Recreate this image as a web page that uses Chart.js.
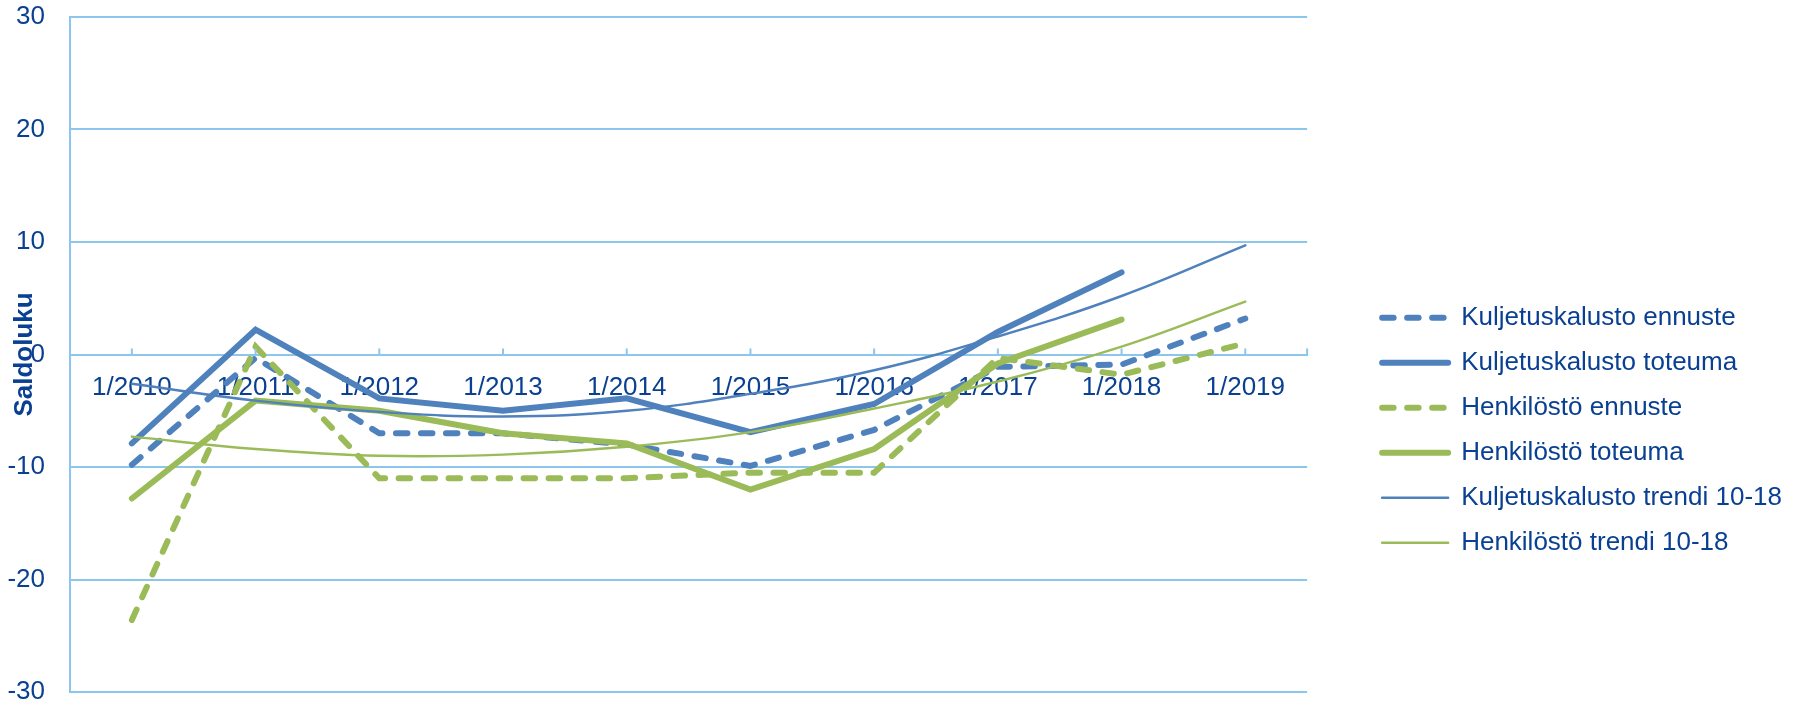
<!DOCTYPE html>
<html>
<head>
<meta charset="utf-8">
<script src="https://cdn.jsdelivr.net/npm/chart.js@4"></script>
<style>
  html, body { margin: 0; padding: 0; background: #fff; }
  #wrap { width: 1806px; height: 702px; }
</style>
</head>
<body>
<div id="wrap"><canvas id="saldoChart"></canvas></div>
<script>
const labels = ['1/2010', '1/2011', '1/2012', '1/2013', '1/2014', '1/2015', '1/2016', '1/2017', '1/2018', '1/2019'];

const kuljetusEnnuste = [-9.8, -0.3, -7.0, -7.0, -8.0, -9.9, -6.7, -1.1, -0.9, 3.2];
const kuljetusToteuma = [-7.9, 2.2, -3.9, -5.0, -3.9, -6.9, -4.4, 2.0, 7.3, null];
const henkEnnuste = [-23.6, 0.7, -11.0, -11.0, -11.0, -10.5, -10.5, -0.3, -1.8, 1.0];
const henkToteuma = [-12.8, -4.1, -5.0, -7.0, -7.9, -12.0, -8.4, -0.8, 3.1, null];
const kuljetusTrendi = [-2.6, -4.1, -5.1, -5.5, -5.0, -3.5, -1.4, 1.6, 5.2, 9.7];
const henkTrendi = [-7.3, -8.4, -9.0, -8.9, -8.2, -6.9, -4.8, -2.4, 0.7, 4.7];

const BLUE = '#4F81BD';
const GREEN = '#9BBB59';
const TEXT = '#0A4092';
const GRID = '#8DC6EC';
const DASH = [11.5, 13.5];

Chart.defaults.font.family = '"Liberation Sans", Arial, sans-serif';
Chart.defaults.color = TEXT;

// short tick marks pointing up from the zero line
const upTicks = {
    id: 'upTicks',
    afterDraw(chart) {
        const x = chart.scales.x;
        const y0 = chart.scales.y.getPixelForValue(0);
        const c = chart.ctx;
        c.save();
        c.strokeStyle = GRID;
        c.lineWidth = 2;
        c.beginPath();
        const xs = x.ticks.map((t, i) => x.getPixelForTick(i));
        xs.push(chart.chartArea.right);
        xs.forEach(px => {
            c.moveTo(px, y0 - 6);
            c.lineTo(px, y0);
        });
        c.stroke();
        c.restore();
    }
};

function line(label, data, color, width, dash, order, tension) {
    return {
        label: label,
        data: data,
        borderColor: color,
        backgroundColor: color,
        borderWidth: width,
        borderDash: dash,
        borderCapStyle: 'round',
        pointRadius: 0,
        pointHoverRadius: 0,
        fill: false,
        tension: tension || 0,
        order: order
    };
}

// legend samples: keep dash and round caps of each line
function legendLabels(chart) {
    return Chart.defaults.plugins.legend.labels.generateLabels(chart).map(item => {
        const ds = chart.data.datasets[item.datasetIndex];
        item.lineDash = ds.borderDash;
        item.lineCap = 'round';
        item.lineWidth = ds.borderWidth;
        return item;
    });
}

new Chart(document.getElementById('saldoChart'), {
    type: 'line',
    data: {
        labels: labels,
        datasets: [
            line('Kuljetuskalusto ennuste', kuljetusEnnuste, BLUE, 6, DASH, 6),
            line('Kuljetuskalusto toteuma', kuljetusToteuma, BLUE, 6, [], 5),
            line('Henkilöstö ennuste', henkEnnuste, GREEN, 6, DASH, 4),
            line('Henkilöstö toteuma', henkToteuma, GREEN, 6, [], 3),
            line('Kuljetuskalusto trendi 10-18', kuljetusTrendi, BLUE, 2.5, [], 2, 0.4),
            line('Henkilöstö trendi 10-18', henkTrendi, GREEN, 2.5, [], 1, 0.4)
        ]
    },
    options: {
        responsive: true,
        maintainAspectRatio: false,
        animation: false,
        layout: { padding: { top: 17, bottom: 10, left: 0, right: 14 } },
        plugins: {
            tooltip: { enabled: false },
            legend: {
                position: 'right',
                align: 'start',
                maxWidth: 600,
                title: { display: true, text: '', font: { size: 12 }, padding: { top: 254.4, bottom: 0 } },
                labels: {
                    usePointStyle: true,
                    pointStyle: 'line',
                    pointStyleWidth: 66,
                    padding: 19,
                    color: TEXT,
                    font: { size: 26 },
                    generateLabels: legendLabels,
                    sort: (a, b) => a.datasetIndex - b.datasetIndex
                }
            }
        },
        scales: {
            x: {
                type: 'category',
                position: { y: 0 },
                offset: true,
                z: 1,
                grid: { drawOnChartArea: false, drawTicks: false, offset: false },
                border: { color: GRID, width: 2 },
                ticks: { padding: 18, maxRotation: 0, autoSkip: false, color: TEXT, font: { size: 26 } },
                afterFit: s => { s.height = 0; }
            },
            y: {
                min: -30,
                max: 30,
                // invisible tick marks keep the labels 25px left of the axis
                grid: { color: GRID, lineWidth: 2, drawTicks: true, tickLength: 25, tickColor: 'rgba(0,0,0,0)' },
                border: { color: GRID, width: 2 },
                ticks: { stepSize: 10, padding: 0, color: TEXT, font: { size: 26, lineHeight: 0.75 } },
                title: {
                    display: true,
                    text: 'Saldoluku',
                    color: TEXT,
                    font: { size: 26, weight: 'bold' },
                    padding: { top: 9.4, bottom: 0 }
                },
                afterFit: s => { s.width = 70; }
            },
            // empty spacer between plot and legend
            yR: {
                position: 'right',
                grid: { display: false },
                border: { display: false },
                ticks: { display: false },
                afterFit: s => { s.width = 56; }
            }
        }
    },
    plugins: [upTicks]
});
</script>
</body>
</html>
